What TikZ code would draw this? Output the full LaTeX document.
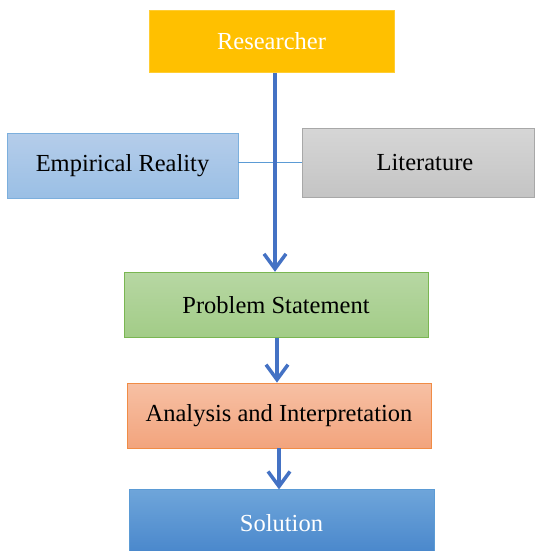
\documentclass[tikz,border=0pt]{standalone}
\usepackage{fontspec}
\setmainfont{Liberation Serif}
\usetikzlibrary{positioning,arrows.meta}

\definecolor{resgold}{HTML}{FFC000}
\definecolor{flowblue}{HTML}{4472C4}
\definecolor{linkblue}{HTML}{5B9BD5}

\begin{document}
\begin{tikzpicture}[
  x=1pt, y=1pt,
  stage/.style={draw, line width=0.8pt, minimum height=64pt,
    inner sep=0pt, font=\fontsize{24.5}{28}\selectfont},
  wide/.style={stage, minimum width=304pt},
  researcher/.style={stage, fill=resgold, draw=resgold!80!white,
    text=white, minimum width=245pt, minimum height=62pt},
  empirical/.style={stage,
    top color={rgb,255:red,181;green,205;blue,234},
    bottom color={rgb,255:red,154;green,191;blue,229},
    draw=linkblue!80!white, minimum width=231pt, minimum height=65pt},
  literature/.style={stage, top color={rgb,255:red,214;green,214;blue,214},
    bottom color={rgb,255:red,196;green,196;blue,196},
    draw={rgb,255:red,168;green,168;blue,168},
    minimum width=232pt, minimum height=69pt},
  problem/.style={wide, top color={rgb,255:red,183;green,215;blue,163},
    bottom color={rgb,255:red,162;green,204;blue,135},
    draw={rgb,255:red,122;green,182;blue,82}, minimum height=65pt},
  analysis/.style={wide, top color={rgb,255:red,247;green,192;blue,164},
    bottom color={rgb,255:red,242;green,164;blue,125},
    draw={rgb,255:red,240;green,140;blue,70}, minimum height=65pt},
  solution/.style={wide, top color={rgb,255:red,110;green,165;blue,218},
    bottom color={rgb,255:red,72;green,134;blue,203},
    draw=linkblue, text=white, minimum width=305pt, minimum height=66pt},
  flow/.style={draw=flowblue, line width=3.5pt,
    -{Straight Barb[length=15pt,width=22pt,line width=3.5pt]}},
  link/.style={draw=linkblue, line width=1.6pt},
  ]
  \useasboundingbox (0,0) rectangle (536,-551);

  \coordinate (top) at (271.5,-10);
  \node [researcher, below=0pt of top] (res) {Researcher};

  \node [empirical] (emp) at (122.5,-165.5) {Empirical Reality};
  \node [literature] (lit) at (418,-162.5) {\hspace*{14pt}Literature};

  \node [problem, below=199pt of res, xshift=4.5pt] (ps) {Problem Statement};
  \node [analysis, below=45pt of ps, xshift=3pt] (ai) {Analysis and Interpretation};
  \node [solution, below=41pt of ai, xshift=2.5pt] (sol) {Solution};

  % side inputs meet the main line
  \draw [link] (emp.east |- lit.west) -- (lit.west);

  \draw [flow] ([xshift=3.5pt]res.south) -- ([xshift=-1pt]ps.north);
  \draw [flow] ([xshift=1pt]ps.south) -- ([xshift=-2pt]ai.north);
  \draw [flow] ([xshift=0pt]ai.south) -- ([xshift=-2.5pt]sol.north);
\end{tikzpicture}
\end{document}
